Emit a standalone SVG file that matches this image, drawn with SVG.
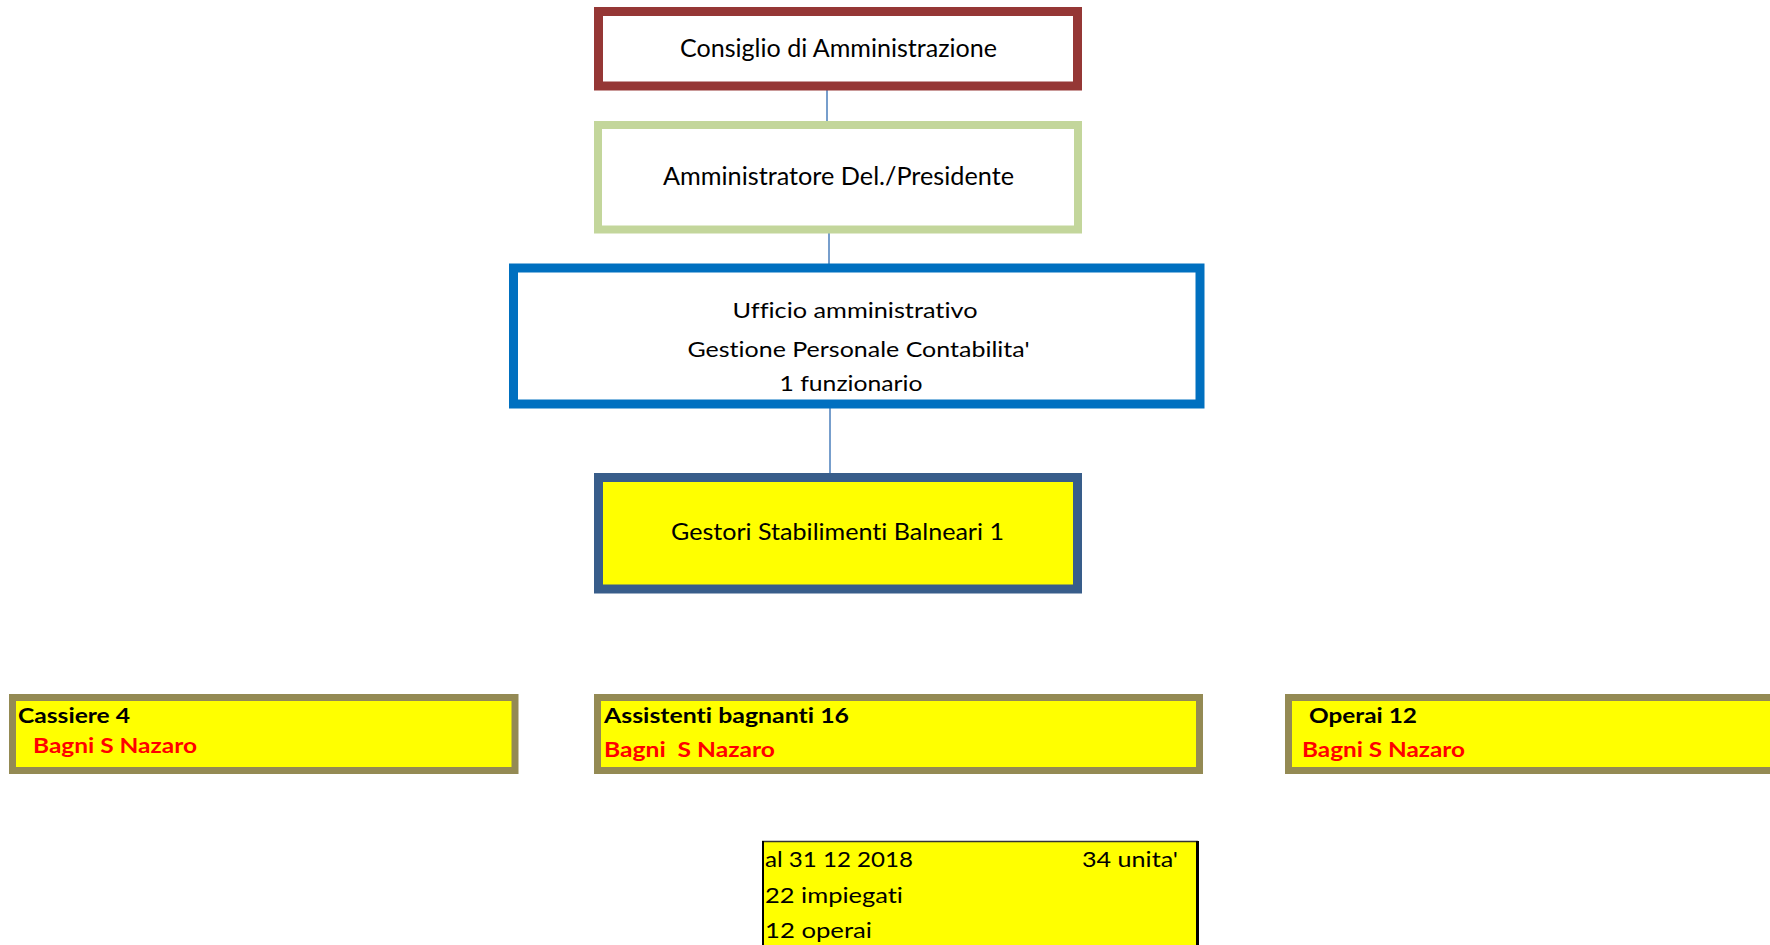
<svg xmlns="http://www.w3.org/2000/svg" width="1770" height="945" viewBox="0 0 1770 945">
<style>
text{font-family:Lato,"Liberation Sans",sans-serif;fill:#000;font-variant-ligatures:none;font-feature-settings:"liga" 0,"clig" 0}
.c{text-anchor:middle}
.b{font-weight:bold}
.r{fill:#FF0000}
.conn{stroke:#4A7EBB;stroke-width:1.5;fill:none}
.low{fill:#FFFF00;stroke:#948A54;stroke-width:7}
</style>
<rect width="1770" height="945" fill="#FFFFFF"/>
<g id="connectors">
<line class="conn" x1="827" y1="90" x2="827" y2="121"/>
<line class="conn" x1="829" y1="233" x2="829" y2="264"/>
<line class="conn" x1="830" y1="408" x2="830" y2="474"/>
</g>
<g id="consiglio">
<rect x="598.5" y="11.5" width="479" height="74.5" fill="#FFFFFF" stroke="#953735" stroke-width="9"/>
<text class="c" x="838.5" y="57" font-size="25" textLength="317" lengthAdjust="spacingAndGlyphs">Consiglio di Amministrazione</text>
</g>
<g id="amministratore">
<rect x="598" y="125" width="480" height="104.5" fill="#FFFFFF" stroke="#C3D69B" stroke-width="8"/>
<text class="c" x="838.5" y="185" font-size="25" textLength="351" lengthAdjust="spacingAndGlyphs">Amministratore Del./Presidente</text>
</g>
<g id="ufficio">
<rect x="513.5" y="268" width="686.5" height="136" fill="#FFFFFF" stroke="#0070C0" stroke-width="9"/>
<text class="c" x="855" y="318" font-size="22" textLength="245" lengthAdjust="spacingAndGlyphs">Ufficio amministrativo</text>
<text class="c" x="858.5" y="357" font-size="22" textLength="342" lengthAdjust="spacingAndGlyphs">Gestione Personale Contabilita'</text>
<text class="c" x="851" y="391" font-size="22" textLength="143" lengthAdjust="spacingAndGlyphs">1 funzionario</text>
</g>
<g id="gestori">
<rect x="598.5" y="477.5" width="479" height="111.5" fill="#FFFF00" stroke="#385D8A" stroke-width="9"/>
<text x="671" y="540" font-size="23" textLength="333" lengthAdjust="spacingAndGlyphs">Gestori Stabilimenti Balneari 1</text>
</g>
<g id="cassiere">
<rect class="low" x="12.5" y="697.5" width="502.5" height="73"/>
<text class="b" x="18" y="723" font-size="20" textLength="112" lengthAdjust="spacingAndGlyphs">Cassiere 4</text>
<text class="b r" x="33" y="753" font-size="20" textLength="164" lengthAdjust="spacingAndGlyphs">Bagni S Nazaro</text>
</g>
<g id="assistenti">
<rect class="low" x="597.5" y="697.5" width="602" height="73"/>
<text class="b" x="604" y="723" font-size="20" textLength="245" lengthAdjust="spacingAndGlyphs">Assistenti bagnanti 16</text>
<text class="b r" x="604" y="757" font-size="20" textLength="171" lengthAdjust="spacingAndGlyphs" xml:space="preserve">Bagni  S Nazaro</text>
</g>
<g id="operai">
<rect class="low" x="1288.5" y="697.5" width="500" height="73"/>
<text class="b" x="1309" y="723" font-size="20" textLength="108" lengthAdjust="spacingAndGlyphs">Operai 12</text>
<text class="b r" x="1302" y="757" font-size="20" textLength="163" lengthAdjust="spacingAndGlyphs">Bagni S Nazaro</text>
</g>
<g id="riepilogo">
<rect x="762" y="841" width="435" height="110" fill="#FFFF00"/>
<line x1="762" y1="841.5" x2="1198" y2="841.5" stroke="#333333" stroke-width="1.5"/>
<line x1="763" y1="841" x2="763" y2="945" stroke="#000000" stroke-width="2"/>
<line x1="1197.5" y1="841" x2="1197.5" y2="945" stroke="#000000" stroke-width="3"/>
<text x="765" y="867" font-size="21" textLength="148" lengthAdjust="spacingAndGlyphs">al 31 12 2018</text>
<text x="1082" y="867" font-size="21" textLength="96" lengthAdjust="spacingAndGlyphs">34 unita'</text>
<text x="765" y="903" font-size="21" textLength="138" lengthAdjust="spacingAndGlyphs">22 impiegati</text>
<text x="765" y="938" font-size="21" textLength="107" lengthAdjust="spacingAndGlyphs">12 operai</text>
</g>
</svg>
